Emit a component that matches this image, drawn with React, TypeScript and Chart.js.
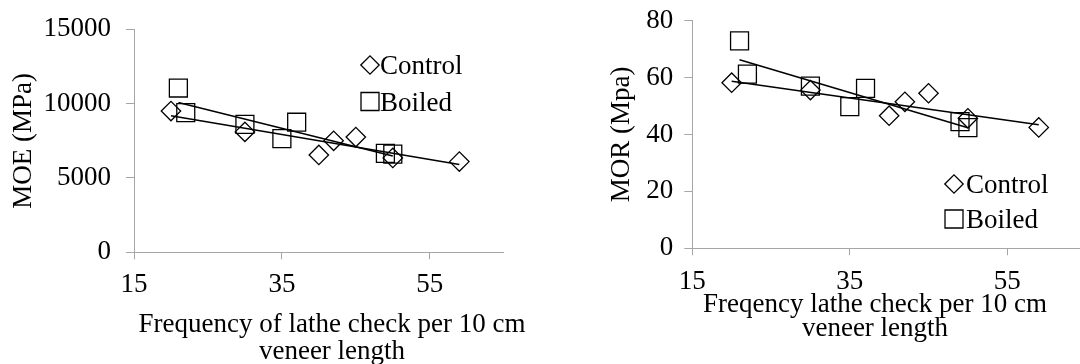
import React, { useEffect, useRef } from 'react';
import { Chart, registerables } from 'chart.js';

Chart.register(...registerables);

const FONT = '"Liberation Serif", "Times New Roman", Times, serif';
const FS = 27;
const AXIS = '#a6a6a6';

// ---- data: MOE panel (left) ----
const moeControlX = [20, 30, 40, 42, 45, 50, 59];
const moeControlY = [9500, 8100, 6550, 7500, 7750, 6350, 6100];
const moeBoiledX = [21, 22, 30, 35, 37, 49, 50];
const moeBoiledY = [11050, 9400, 8600, 7650, 8750, 6650, 6600];
const moeControlTrendX = [20, 59];
const moeControlTrendY = [9190, 5900];
const moeBoiledTrendX = [21, 50];
const moeBoiledTrendY = [10080, 6480];
const moeYTicks = [0, 5000, 10000, 15000];

// ---- data: MOR panel (right) ----
const morControlX = [20, 30, 40, 42, 45, 50, 59];
const morControlY = [58.2, 55.6, 46.6, 51.5, 54.5, 45.7, 42.5];
const morBoiledX = [21, 22, 30, 35, 37, 49, 50];
const morBoiledY = [72.9, 61.2, 57.0, 49.8, 56.2, 44.5, 42.4];
const morControlTrendX = [20, 59];
const morControlTrendY = [58.7, 43.4];
const morBoiledTrendX = [21, 50];
const morBoiledTrendY = [66.3, 42.4];
const morYTicks = [0, 20, 40, 60, 80];

const xTicks = [15, 35, 55];
const seriesNames = ['Control', 'Boiled'];
const moeXTitle = ['Frequency of lathe check per 10 cm', 'veneer length'];
const morXTitle = ['Freqency lathe check per 10 cm', 'veneer length'];

const zip = (xs: number[], ys: number[]) => xs.map((x, i) => ({ x, y: ys[i] }));

function makeDecorPlugin(
  legend: { x: number; y: number; gap: number; textX: number },
  xTitle: { lines: string[]; cx: number; baselines: number[] }
) {
  return {
    id: 'decor',
    afterDraw(chart: any) {
      const ctx = chart.ctx as CanvasRenderingContext2D;
      ctx.save();
      ctx.font = `${FS}px ${FONT}`;
      ctx.fillStyle = '#000';
      ctx.textBaseline = 'alphabetic';
      // x-axis title
      ctx.textAlign = 'center';
      xTitle.lines.forEach((line, i) => ctx.fillText(line, xTitle.cx, xTitle.baselines[i]));
      // legend
      seriesNames.forEach((name, i) => {
        const cx = legend.x;
        const cy = legend.y + i * legend.gap;
        ctx.beginPath();
        if (i === 0) {
          const r = 9.2;
          ctx.moveTo(cx - r, cy);
          ctx.lineTo(cx, cy - r);
          ctx.lineTo(cx + r, cy);
          ctx.lineTo(cx, cy + r);
          ctx.closePath();
        } else {
          const h = 9;
          ctx.rect(cx - h, cy - h, 2 * h, 2 * h);
        }
        ctx.lineWidth = 1.3;
        ctx.strokeStyle = '#000';
        ctx.stroke();
        ctx.textAlign = 'left';
        ctx.fillText(name, legend.textX, cy + 9);
      });
      ctx.restore();
    },
  };
}

interface PanelCfg {
  controlX: number[]; controlY: number[];
  boiledX: number[]; boiledY: number[];
  cTrendX: number[]; cTrendY: number[];
  bTrendX: number[]; bTrendY: number[];
  yTicks: number[]; yMax: number;
  yTitle: string;
  yWidth: number; xHeight: number;
  padTop: number; padRight: number;
  yTickPad: number; xTickPad: number;
  yTitlePad: number;
  xTitle: { lines: string[]; cx: number; baselines: number[] };
  legend: { x: number; y: number; gap: number; textX: number };
}

function buildConfig(c: PanelCfg): any {
  const tickFont = { family: FONT, size: FS };
  return {
    type: 'scatter',
    data: {
      datasets: [
        {
          label: 'Control trend', data: zip(c.cTrendX, c.cTrendY), showLine: true,
          pointRadius: 0, borderColor: '#000', borderWidth: 1.5, fill: false,
        },
        {
          label: 'Boiled trend', data: zip(c.bTrendX, c.bTrendY), showLine: true,
          pointRadius: 0, borderColor: '#000', borderWidth: 1.5, fill: false,
        },
        {
          label: seriesNames[0], data: zip(c.controlX, c.controlY), pointStyle: 'rectRot',
          pointRadius: 9.7, borderColor: '#000', backgroundColor: 'rgba(0,0,0,0)', borderWidth: 1.3,
        },
        {
          label: seriesNames[1], data: zip(c.boiledX, c.boiledY), pointStyle: 'rect',
          pointRadius: 12.7, borderColor: '#000', backgroundColor: 'rgba(0,0,0,0)', borderWidth: 1.3,
        },
      ],
    },
    options: {
      animation: false,
      responsive: false,
      maintainAspectRatio: false,
      events: [],
      layout: { padding: { top: c.padTop, right: c.padRight, left: 0, bottom: 0 } },
      plugins: { legend: { display: false }, tooltip: { enabled: false } },
      scales: {
        x: {
          type: 'linear', min: 15, max: 65,
          afterBuildTicks: (s: any) => { s.ticks = xTicks.map((v) => ({ value: v })); },
          afterFit: (s: any) => {
            s.height = c.xHeight;
            s.paddingLeft = 0; s.paddingRight = 0; s.paddingTop = 0; s.paddingBottom = 0;
          },
          grid: { display: true, drawOnChartArea: false, drawTicks: true, tickLength: 7, color: AXIS, lineWidth: 1 },
          border: { display: true, color: AXIS, width: 1 },
          ticks: {
            font: tickFont, color: '#000', padding: c.xTickPad, maxRotation: 0, autoSkip: false,
            callback: (v: any) => String(v),
          },
          title: { display: false },
        },
        y: {
          type: 'linear', min: 0, max: c.yMax,
          afterBuildTicks: (s: any) => { s.ticks = c.yTicks.map((v) => ({ value: v })); },
          afterFit: (s: any) => {
            s.width = c.yWidth;
            s.paddingLeft = 0; s.paddingRight = 0; s.paddingTop = 0; s.paddingBottom = 0;
          },
          grid: { display: true, drawOnChartArea: false, drawTicks: true, tickLength: 8, color: AXIS, lineWidth: 1 },
          border: { display: true, color: AXIS, width: 1 },
          ticks: {
            font: tickFont, color: '#000', padding: c.yTickPad, autoSkip: false,
            callback: (v: any) => String(v),
          },
          title: {
            display: true, text: c.yTitle, color: '#000',
            font: { family: FONT, size: FS, lineHeight: 1.2 },
            padding: { top: c.yTitlePad, bottom: 0 },
          },
        },
      },
    },
    plugins: [makeDecorPlugin(c.legend, c.xTitle)],
  };
}

const leftCfg: PanelCfg = {
  controlX: moeControlX, controlY: moeControlY,
  boiledX: moeBoiledX, boiledY: moeBoiledY,
  cTrendX: moeControlTrendX, cTrendY: moeControlTrendY,
  bTrendX: moeBoiledTrendX, bTrendY: moeBoiledTrendY,
  yTicks: moeYTicks, yMax: 15000,
  yTitle: 'MOE (MPa)',
  yWidth: 134, xHeight: 111.7,
  padTop: 29.3, padRight: 36.3,
  yTickPad: 15, xTickPad: 9,
  yTitlePad: 8,
  xTitle: { lines: moeXTitle, cx: 332, baselines: [332, 358.5] },
  legend: { x: 370, y: 65, gap: 36.5, textX: 380 },
};

const rightCfg: PanelCfg = {
  controlX: morControlX, controlY: morControlY,
  boiledX: morBoiledX, boiledY: morBoiledY,
  cTrendX: morControlTrendX, cTrendY: morControlTrendY,
  bTrendX: morBoiledTrendX, bTrendY: morBoiledTrendY,
  yTicks: morYTicks, yMax: 80,
  yTitle: 'MOR (Mpa)',
  yWidth: 152.3, xHeight: 364 - 248.3,
  padTop: 20.7, padRight: 10.2,
  yTickPad: 11, xTickPad: 10,
  yTitlePad: 66,
  xTitle: { lines: morXTitle, cx: 875 - 540, baselines: [312, 336] },
  legend: { x: 954 - 540, y: 184, gap: 35, textX: 966 - 540 },
};

export default function App() {
  const leftRef = useRef<HTMLCanvasElement>(null);
  const rightRef = useRef<HTMLCanvasElement>(null);

  useEffect(() => {
    const charts: Chart[] = [];
    if (leftRef.current) charts.push(new Chart(leftRef.current, buildConfig(leftCfg)));
    if (rightRef.current) charts.push(new Chart(rightRef.current, buildConfig(rightCfg)));
    return () => { charts.forEach((ch) => ch.destroy()); };
  }, []);

  return (
    <div style={{ position: 'fixed', left: 0, top: 0, width: 1080, height: 364, overflow: 'hidden', background: '#fff' }}>
      <canvas ref={leftRef} width={540} height={364} style={{ position: 'absolute', left: 0, top: 0, width: 540, height: 364 }} />
      <canvas ref={rightRef} width={560} height={364} style={{ position: 'absolute', left: 540, top: 0, width: 560, height: 364 }} />
    </div>
  );
}
